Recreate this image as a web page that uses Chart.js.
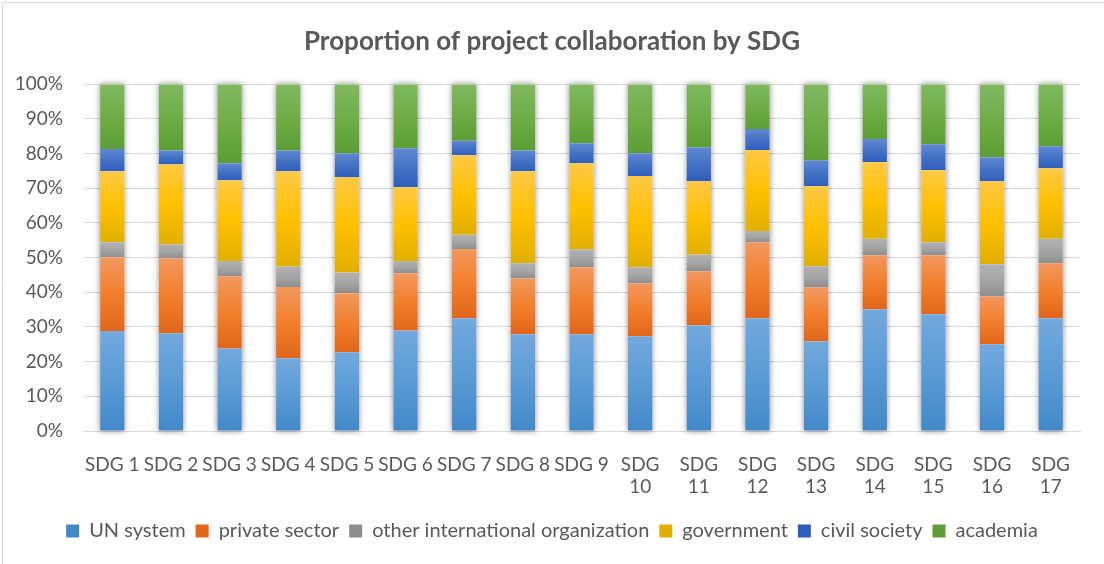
<!DOCTYPE html>
<html>
<head>
<meta charset="utf-8">
<script src="https://cdn.jsdelivr.net/npm/chart.js@4"></script>
<style>
  html, body { margin: 0; padding: 0; background: #fff; }
  #wrap { width: 1104px; height: 564px; }
</style>
</head>
<body>
<div id="wrap"><canvas id="sdgChart" width="1104" height="564"></canvas></div>
<script>
const categories = ['SDG 1', 'SDG 2', 'SDG 3', 'SDG 4', 'SDG 5', 'SDG 6', 'SDG 7', 'SDG 8', 'SDG 9',
    'SDG 10', 'SDG 11', 'SDG 12', 'SDG 13', 'SDG 14', 'SDG 15', 'SDG 16', 'SDG 17'];

const seriesNames = ['UN system', 'private sector', 'other international organization',
    'government', 'civil society', 'academia'];

// shares in %
const unSystem      = [28.8, 28.2, 23.8, 21.0, 22.7, 29.0, 32.5, 27.9, 27.9, 27.3, 30.5, 32.5, 25.9, 35.1, 33.7, 25.0, 32.5];
const privateSector = [21.3, 21.6, 20.8, 20.5, 17.0, 16.5, 20.0, 16.1, 19.3, 15.3, 15.6, 21.9, 15.5, 15.6, 17.0, 13.8, 15.9];
const otherIntlOrg  = [ 4.3,  4.0,  4.4,  5.9,  6.0,  3.5,  4.1,  4.4,  5.2,  4.6,  4.8,  3.3,  6.1,  4.7,  3.7,  9.3,  7.0];
const government    = [20.5, 23.1, 23.3, 27.5, 27.5, 21.3, 22.9, 26.5, 24.8, 26.3, 21.1, 23.3, 23.1, 22.1, 20.8, 23.9, 20.4];
const civilSociety  = [ 6.4,  4.0,  4.9,  6.0,  6.9, 11.2,  4.2,  6.0,  5.8,  6.6,  9.8,  6.1,  7.5,  6.7,  7.5,  6.9,  6.3];
const academia      = [18.7, 19.1, 22.8, 19.1, 19.9, 18.5, 16.3, 19.1, 17.0, 19.9, 18.2, 12.9, 21.9, 15.8, 17.3, 21.1, 17.9];

const yTicks = [0, 10, 20, 30, 40, 50, 60, 70, 80, 90, 100];

const allSeries = [unSystem, privateSector, otherIntlOrg, government, civilSociety, academia];

// top / base / bottom shades, office style
const shades = [
    ['#72a9de', '#5b9bd5', '#4288c9'],
    ['#f2985f', '#f27f2c', '#e1661a'],
    ['#b2b2b2', '#a5a5a5', '#8e8e8e'],
    ['#ffc945', '#ffc000', '#e1af00'],
    ['#6088d3', '#4472c4', '#2e5ebd'],
    ['#81b862', '#70ad47', '#5c9d35']
];

const textColor = '#595959';
const fontFamily = 'Lato, "Open Sans", sans-serif';

function segmentFill(ds) {
    return function (c) {
        const chart = c.chart;
        if (c.type !== 'data' || !chart.chartArea) return shades[ds][1];
        let start = 0;
        for (let k = 0; k < ds; k++) start += allSeries[k][c.dataIndex];
        const end = start + allSeries[ds][c.dataIndex];
        const y = chart.scales.y;
        const yTop = y.getPixelForValue(Math.min(end, 100));
        const yBot = y.getPixelForValue(start);
        if (!isFinite(yTop) || !isFinite(yBot) || yTop === yBot) return shades[ds][1];
        const g = chart.ctx.createLinearGradient(0, yTop, 0, yBot);
        g.addColorStop(0, shades[ds][0]);
        g.addColorStop(0.5, shades[ds][1]);
        g.addColorStop(1, shades[ds][2]);
        return g;
    };
}

const datasets = allSeries.map((values, i) => ({
    label: seriesNames[i],
    data: values,
    backgroundColor: segmentFill(i),
    borderWidth: 0,
    barPercentage: 0.415,
    categoryPercentage: 1.0
}));

// soft shadow behind each stacked column
const barShadow = {
    id: 'barShadow',
    beforeDatasetsDraw(chart) {
        const ctx = chart.ctx;
        const first = chart.getDatasetMeta(0);
        const last = chart.getDatasetMeta(chart.data.datasets.length - 1);
        first.data.forEach((bar, i) => {
            const top = last.data[i].y;
            ctx.save();
            ctx.shadowColor = 'rgba(0,0,0,0.45)';
            ctx.shadowBlur = 6;
            ctx.fillStyle = '#ffffff';
            ctx.fillRect(bar.x - bar.width / 2, top, bar.width, bar.base - top);
            ctx.restore();
        });
    }
};

const frame = {
    id: 'frame',
    beforeDraw(chart) {
        const ctx = chart.ctx;
        ctx.save();
        ctx.fillStyle = '#ffffff';
        ctx.fillRect(0, 0, chart.width, chart.height);
        ctx.strokeStyle = '#d9d9d9';
        ctx.lineWidth = 1;
        ctx.beginPath();
        ctx.moveTo(2.5, chart.height);
        ctx.lineTo(2.5, 2.5);
        ctx.lineTo(chart.width, 2.5);
        ctx.stroke();
        ctx.restore();
    }
};

const config = {
    type: 'bar',
    data: { labels: categories, datasets: datasets },
    plugins: [frame, barShadow],
    options: {
        responsive: false,
        animation: false,
        layout: { padding: { left: 12, right: 12, top: 0, bottom: 13 } },
        plugins: {
            title: {
                display: true,
                text: 'Proportion of project collaboration by SDG',
                color: textColor,
                font: { family: fontFamily, size: 26, weight: 'bold' },
                padding: { top: 26, bottom: 27 }
            },
            legend: {
                position: 'bottom',
                labels: {
                    color: textColor,
                    font: { family: fontFamily, size: 20 },
                    boxWidth: 13,
                    boxHeight: 13,
                    padding: 10
                }
            },
            tooltip: { enabled: false }
        },
        scales: {
            x: {
                stacked: true,
                grid: { display: false },
                border: { color: '#d9d9d9' },
                ticks: {
                    color: textColor,
                    font: { family: fontFamily, size: 19 },
                    maxRotation: 0,
                    autoSkip: false,
                    padding: 14,
                    callback: function (value) {
                        const l = categories[value];
                        return l.length > 5 ? l.split(' ') : l;
                    }
                },
                afterFit(scale) { scale.height = 80; }
            },
            y: {
                stacked: true,
                min: 0,
                max: 100,
                grid: { color: '#d9d9d9', drawTicks: false },
                border: { display: false },
                afterBuildTicks(scale) { scale.ticks = yTicks.map(v => ({ value: v })); },
                ticks: {
                    color: textColor,
                    font: { family: fontFamily, size: 19 },
                    padding: 20,
                    callback: v => v + '%'
                },
                afterFit(scale) { scale.width = 71; }
            },
            yRight: {
                position: 'right',
                display: true,
                grid: { display: false, drawTicks: false },
                border: { display: false },
                ticks: { display: false },
                afterFit(scale) { scale.width = 12; }
            }
        }
    }
};

new Chart(document.getElementById('sdgChart'), config);
</script>
</body>
</html>
